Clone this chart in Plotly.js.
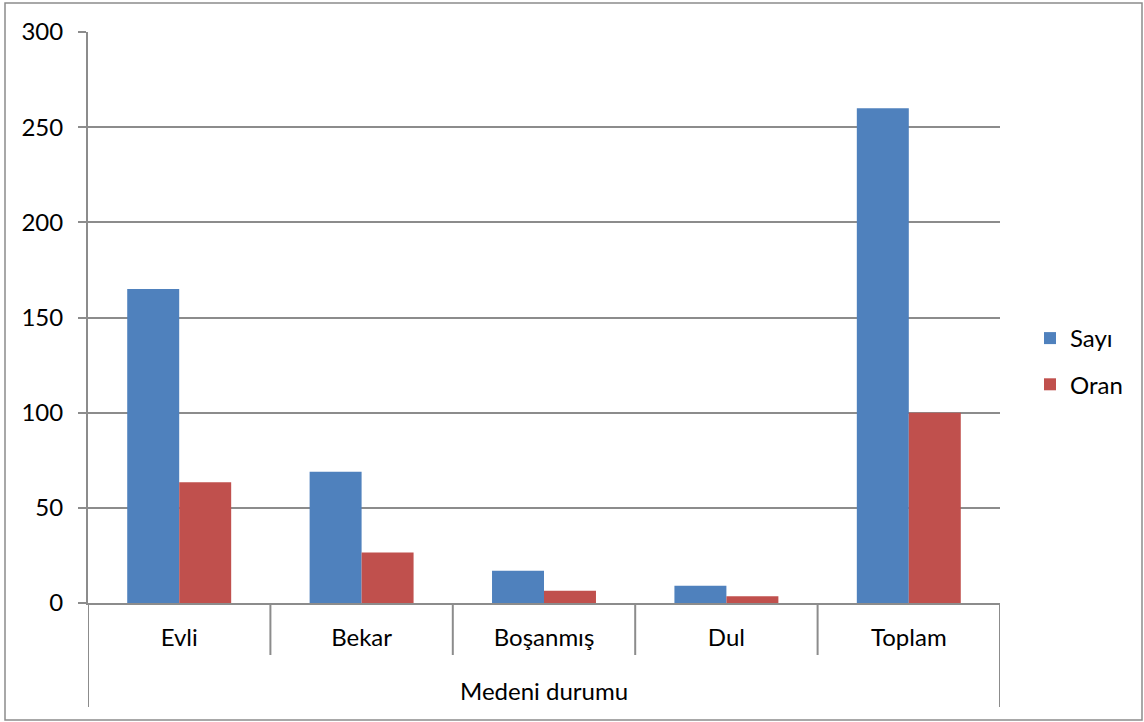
<!DOCTYPE html>
<html>
<head>
<meta charset="utf-8">
<script src="https://cdn.plot.ly/plotly-3.0.1.min.js"></script>
<style>html,body{margin:0;padding:0;background:#fff;}#chart{width:1144px;height:722px;}</style>
</head>
<body>
<div id="chart"></div>
<script>
const categories = ["Evli", "Bekar", "Boşanmış", "Dul", "Toplam"];
const sayi = [165, 69, 17, 9, 260];
const oran = [63.5, 26.5, 6.5, 3.5, 100];
const seriesNames = ["Sayı", "Oran"];
const yTicks = [0, 50, 100, 150, 200, 250, 300];
const axisTitle = "Medeni durumu";

const FONT = "Lato, 'Open Sans', sans-serif";
const FS = 24;
const GRAY = "#8c8c8c";

const traces = [
  {type: "bar", name: seriesNames[0], x: categories, y: sayi, marker: {color: "#4F81BD"}, legendgroup: "a"},
  {type: "bar", name: seriesNames[1], x: categories, y: oran, marker: {color: "#C0504D"}, legendgroup: "b"}
];

const W = 1144, H = 722;
const L = 88, R = 144, T = 32, B = 119;
const pw = W - L - R, ph = H - T - B;
const py = px => -px / ph; // pixels below plot bottom -> paper y
const pxX = px => (px - L) / pw;

const shapes = [];
for (let i = 0; i <= categories.length; i++) {
  const edge = (i === 0 || i === categories.length);
  shapes.push({type: "line", xref: "x", yref: "paper", x0: i - 0.5, x1: i - 0.5,
    y0: 0, y1: py(edge ? 104 : 52), line: {color: GRAY, width: 2}});
}
// chart border
shapes.push({type: "rect", xref: "paper", yref: "paper",
  x0: pxX(5), x1: pxX(1142), y0: (H - B - 3) / ph, y1: -(720 - (H - B)) / ph,
  line: {color: GRAY, width: 1.5}});

const layout = {
  width: W, height: H,
  margin: {l: L, r: R, t: T, b: B, pad: 0},
  paper_bgcolor: "#fff", plot_bgcolor: "#fff",
  font: {family: FONT, size: FS, color: "#000"},
  barmode: "group", bargap: 0.43, bargroupgap: 0,
  showlegend: true,
  legend: {x: pxX(1030), y: (H - B - 316) / ph, xanchor: "left", yanchor: "top",
    font: {family: FONT, size: FS, color: "#000"}, tracegroupgap: 12, bgcolor: "rgba(0,0,0,0)"},
  xaxis: {type: "category", range: [-0.5, categories.length - 0.5], showgrid: false,
    showline: true, linecolor: GRAY, linewidth: 2, ticks: "", ticklabelstandoff: 12,
    tickfont: {family: FONT, size: FS, color: "#000"}, fixedrange: true},
  yaxis: {range: [0, 300], tickvals: yTicks, ticktext: yTicks.map(String), showgrid: true,
    gridcolor: GRAY, gridwidth: 2, showline: true, linecolor: GRAY, linewidth: 2,
    ticks: "outside", ticklen: 8, tickwidth: 2, tickcolor: GRAY, ticklabelstandoff: 10,
    zeroline: false, tickfont: {family: FONT, size: FS, color: "#000"}, fixedrange: true},
  shapes: shapes,
  annotations: [{text: axisTitle, xref: "paper", yref: "paper", x: 0.5, y: py(87),
    xanchor: "center", yanchor: "middle", showarrow: false, font: {family: FONT, size: FS, color: "#000"}}]
};

Plotly.newPlot("chart", traces, layout, {displayModeBar: false, staticPlot: true});
</script>
</body>
</html>
